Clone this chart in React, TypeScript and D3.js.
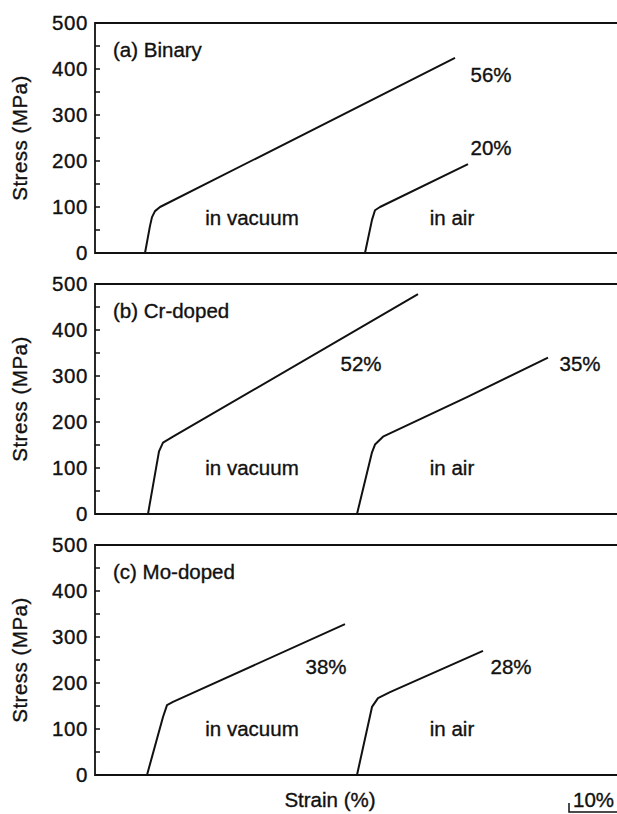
import React from "react";
import * as d3 from "d3";

// strain (%) on a shared offset axis, stress (MPa)
const panelTitles = ["(a) Binary", "(b) Cr-doped", "(c) Mo-doped"];

const binaryVacuum: [number, number][] = [[10, 0], [11, 59], [11.4, 78], [12, 91], [13, 100], [72, 424]];
const binaryAir: [number, number][] = [[54, 0], [55.4, 72], [56, 93], [57, 100], [74.6, 193]];
const crVacuum: [number, number][] = [[10.6, 0], [12.8, 136], [13.6, 155], [15.6, 168], [64.6, 478]];
const crAir: [number, number][] = [[52.4, 0], [55.4, 134], [56, 151], [57.6, 168], [74.4, 254], [90.6, 340]];
const moVacuum: [number, number][] = [[10.4, 0], [13.6, 126], [14.4, 152], [15.6, 159], [50, 328]];
const moAir: [number, number][] = [[52.4, 0], [55.4, 148], [56.6, 167], [59, 180], [77.6, 270]];

const vacuumCurves = [binaryVacuum, crVacuum, moVacuum];
const airCurves = [binaryAir, crAir, moAir];

const elongVacuum = ["56%", "52%", "38%"];
const elongAir = ["20%", "35%", "28%"];

const stressTicks = [0, 100, 200, 300, 400, 500];
const minorTicks = [50, 150, 250, 350, 450];

// label anchors (strain, stress)
const vacLabelPos: [number, number][] = [[79.2, 387], [53.2, 326], [46.2, 235]];
const airLabelPos: [number, number][] = [[79.2, 230], [97, 328], [83.2, 235]];
const envLabelY = [77, 100, 100];

const W = 617;
const H = 814;
const left = 95;
const right = 617;
const tops = [23, 284, 545];
const ph = 230;
const font = "'Liberation Sans', Arial, Helvetica, sans-serif";
const fs = 20.5;

const x = d3.scaleLinear().domain([0, (right - left) / 5]).range([left, right]);

const Panel = ({ i }: { i: number }) => {
  const top = tops[i];
  const y = d3.scaleLinear().domain([0, 500]).range([top + ph, top]);
  const line = d3
    .line<[number, number]>()
    .x((d) => x(d[0]))
    .y((d) => y(d[1]))
    .curve(d3.curveLinear);
  return (
    <g>
      <path
        d={`M${right},${top}H${left}V${top + ph}H${right}`}
        fill="none"
        stroke="#111"
        strokeWidth={1.8}
      />
      {stressTicks.map((t) => (
        <g key={t}>
          <line x1={left} x2={left + 5} y1={y(t)} y2={y(t)} stroke="#111" strokeWidth={1.5} />
          <text x={left - 7} y={y(t)} dy="0.36em" textAnchor="end" fontSize={fs} letterSpacing={0.6}>
            {t}
          </text>
        </g>
      ))}
      {minorTicks.map((t) => (
        <line key={t} x1={left} x2={left + 5} y1={y(t)} y2={y(t)} stroke="#111" strokeWidth={1.5} />
      ))}
      <text x={20} y={top + ph / 2} textAnchor="middle" dy="0.36em" fontSize={fs} letterSpacing={0.5}
        transform={`rotate(-90,20,${top + ph / 2})`}>
        Stress (MPa)
      </text>
      <text x={113} y={top + 27} dy="0.36em" fontSize={fs}>
        {panelTitles[i]}
      </text>
      <path d={line(vacuumCurves[i]) || ""} fill="none" stroke="#111" strokeWidth={2} strokeLinejoin="round" />
      <path d={line(airCurves[i]) || ""} fill="none" stroke="#111" strokeWidth={2} strokeLinejoin="round" />
      <text x={x(vacLabelPos[i][0])} y={y(vacLabelPos[i][1])} dy="0.36em" textAnchor="middle" fontSize={fs}>
        {elongVacuum[i]}
      </text>
      <text x={x(airLabelPos[i][0])} y={y(airLabelPos[i][1])} dy="0.36em" textAnchor="middle" fontSize={fs}>
        {elongAir[i]}
      </text>
      <text x={x(31.4)} y={y(envLabelY[i])} dy="0.36em" textAnchor="middle" fontSize={fs}>
        in vacuum
      </text>
      <text x={x(71.4)} y={y(envLabelY[i])} dy="0.36em" textAnchor="middle" fontSize={fs}>
        in air
      </text>
    </g>
  );
};

export default function App() {
  return (
    <svg
      width={W}
      height={H}
      style={{ position: "absolute", left: 0, top: 0, background: "#fff" }}
      fontFamily={font}
      fill="#111"
      stroke="none"
    >
      <g style={{ stroke: "#111", strokeWidth: 0.35 } as React.CSSProperties}>
        {panelTitles.map((_, i) => (
          <Panel key={i} i={i} />
        ))}
        <text x={330} y={800} dy="0.36em" textAnchor="middle" fontSize={fs}>
          Strain (%)
        </text>
        {/* 10% scale bar */}
        <path
          d={`M${x(94.8)},803V812H${x(104.8)}`}
          fill="none"
          stroke="#111"
          strokeWidth={1.5}
        />
        <text x={x(94.8) + 4} y={807} fontSize={fs}>
          10%
        </text>
      </g>
    </svg>
  );
}
